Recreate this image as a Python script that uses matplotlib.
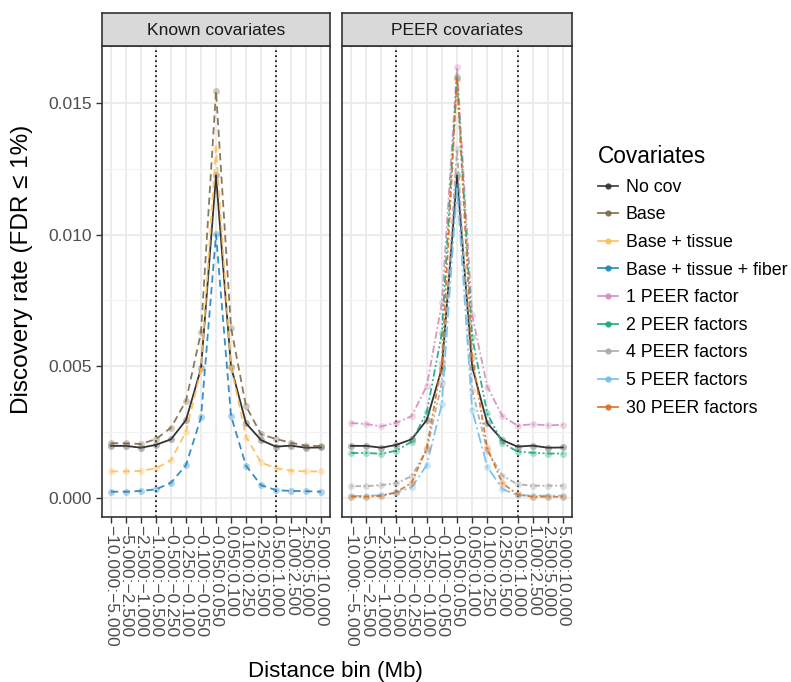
import numpy as np
import matplotlib
matplotlib.use("Agg")
import matplotlib.pyplot as plt
from matplotlib.lines import Line2D

plt.rcParams['font.family'] = ['Liberation Sans', 'DejaVu Sans']

bins = ["\u221210.000:\u22125.000", "\u22125.000:\u22122.500", "\u22122.500:\u22121.000",
        "\u22121.000:\u22120.500", "\u22120.500:\u22120.250", "\u22120.250:\u22120.100",
        "\u22120.100:\u22120.050", "\u22120.050:0.050", "0.050:0.100", "0.100:0.250",
        "0.250:0.500", "0.500:1.000", "1.000:2.500", "2.500:5.000", "5.000:10.000"]

# discovery rate values (x 1e-3)
no_cov = [1.98, 1.98, 1.91, 2.02, 2.23, 2.96, 4.92, 12.25, 4.99, 2.84, 2.20, 1.95, 1.99, 1.91, 1.92]
base = [2.08, 2.08, 2.05, 2.24, 2.67, 3.69, 6.29, 15.45, 6.47, 3.49, 2.42, 2.24, 2.10, 1.99, 1.97]
base_tissue = [1.01, 1.01, 1.03, 1.13, 1.44, 2.52, 4.86, 13.28, 4.99, 2.33, 1.35, 1.13, 1.04, 1.01, 1.01]
base_tissue_fiber = [0.24, 0.24, 0.27, 0.33, 0.58, 1.25, 3.06, 10.01, 3.12, 1.23, 0.49, 0.30, 0.27, 0.26, 0.24]
peer1 = [2.85, 2.81, 2.72, 2.86, 3.11, 4.25, 7.40, 16.35, 6.95, 4.23, 3.11, 2.75, 2.80, 2.76, 2.78]
peer2 = [1.71, 1.71, 1.68, 1.80, 2.14, 3.25, 6.26, 16.00, 6.12, 3.21, 2.10, 1.76, 1.72, 1.69, 1.69]
peer4 = [0.45, 0.45, 0.49, 0.56, 0.83, 1.82, 4.38, 13.24, 4.10, 1.80, 0.85, 0.52, 0.47, 0.47, 0.47]
peer5 = [0.08, 0.08, 0.11, 0.20, 0.41, 1.25, 3.57, 11.80, 3.34, 1.19, 0.34, 0.11, 0.09, 0.09, 0.09]
peer30 = [0.05, 0.05, 0.08, 0.22, 0.58, 1.89, 5.13, 15.90, 5.36, 1.89, 0.56, 0.14, 0.05, 0.05, 0.05]

names = ["No cov", "Base", "Base + tissue", "Base + tissue + fiber", "1 PEER factor",
         "2 PEER factors", "4 PEER factors", "5 PEER factors", "30 PEER factors"]
colors = ["#333333", "#7E6A4A", "#FDBE5A", "#1F84C2", "#D58CBB",
          "#17A77E", "#A8A8A8", "#6FBEEC", "#DB6F1E"]
dashes = [None, (4, 2.5), (4, 2.5), (4, 2.5), (4, 1.5, 1, 1.5),
          (4, 1.5, 1, 1.5, 1, 1.5), (1, 1.5, 3, 1.5), (6, 2, 1, 2), (3, 1.5, 1, 1.5)]

known = [0, 1, 2, 3]
peer = [0, 4, 5, 6, 7, 8]
series = [no_cov, base, base_tissue, base_tissue_fiber, peer1, peer2, peer4, peer5, peer30]

W, H = 791, 682
fig = plt.figure(figsize=(W / 100, H / 100), dpi=100)

x = np.arange(len(bins))


def setup(ax, title):
    ax.set_xlim(-0.6, len(bins) - 0.4)
    ax.set_ylim(-0.00072, 0.01716)
    ax.set_yticks([0, 0.005, 0.010, 0.015])
    ax.set_yticks([0.0025, 0.0075, 0.0125], minor=True)
    ax.set_xticks(x)
    ax.set_xticklabels(bins, rotation=270, fontsize=12.5, color="#4D4D4D", va="top", ha="center")
    ax.grid(True, which="major", color="#EBEBEB", lw=1.3, zorder=0)
    ax.grid(True, which="minor", axis="y", color="#F2F2F2", lw=0.8, zorder=0)
    ax.set_axisbelow(True)
    for s in ax.spines.values():
        s.set_color("#333333")
        s.set_linewidth(1.2)
    ax.tick_params(length=4, width=1, color="#333333", labelsize=12.5, labelcolor="#4D4D4D")
    ax.tick_params(axis="x", pad=2)
    ax.tick_params(which="minor", length=0)
    for v in (3, 11):
        ax.axvline(v, color="black", ls=(0, (1, 2)), lw=1.2, zorder=1)
    # strip
    pos = ax.get_position()
    sax = fig.add_axes([pos.x0, pos.y1, pos.width, 33 / H])
    sax.set_facecolor("#D9D9D9")
    sax.set_xticks([])
    sax.set_yticks([])
    for s in sax.spines.values():
        s.set_color("#333333")
        s.set_linewidth(1.2)
    sax.text(0.5, 0.48, title, ha="center", va="center", fontsize=12.6, color="#1A1A1A",
             transform=sax.transAxes)


def draw(ax, idx):
    for i in idx:
        y = np.array(series[i]) / 1000
        kw = dict(color=colors[i], lw=1.3, alpha=0.9 if i else 1.0, zorder=3)
        line, = ax.plot(x, y, **kw)
        if dashes[i] is not None:
            line.set_dashes(dashes[i])
        ax.plot(x, y, "o", color=colors[i], ms=5, alpha=0.35, mec="none", zorder=3)


ax1 = fig.add_axes([102 / W, 1 - 517 / H, 228 / W, 471 / H])
setup(ax1, "Known covariates")
draw(ax1, known)
ax1.set_yticklabels(["0.000", "0.005", "0.010", "0.015"])

ax2 = fig.add_axes([342 / W, 1 - 517 / H, 230 / W, 471 / H])
setup(ax2, "PEER covariates")
draw(ax2, peer)
ax2.set_yticklabels([])
ax2.tick_params(axis="y", length=0)

fig.text(22 / W, 1 - 269 / H, "Discovery rate (FDR \u2264 1%)", rotation=90,
         ha="center", va="center", fontsize=17.5)
fig.text(335 / W, 1 - 671 / H, "Distance bin (Mb)", ha="center", va="center", fontsize=16)

handles = [Line2D([0], [0], color=c, lw=1.3, marker="o", ms=4.5, mfc=c, mec="none",
                  alpha=0.9) for c in colors]
leg = fig.legend(handles, names, loc="upper left", bbox_to_anchor=(591 / W, 1 - 138 / H),
                 frameon=False, fontsize=12.75, title="Covariates", title_fontsize=16.3,
                 handlelength=1.15, handletextpad=0.4, labelspacing=0.6, borderaxespad=0)
leg._legend_box.align = "left"

fig.savefig("out.png", dpi=100)
